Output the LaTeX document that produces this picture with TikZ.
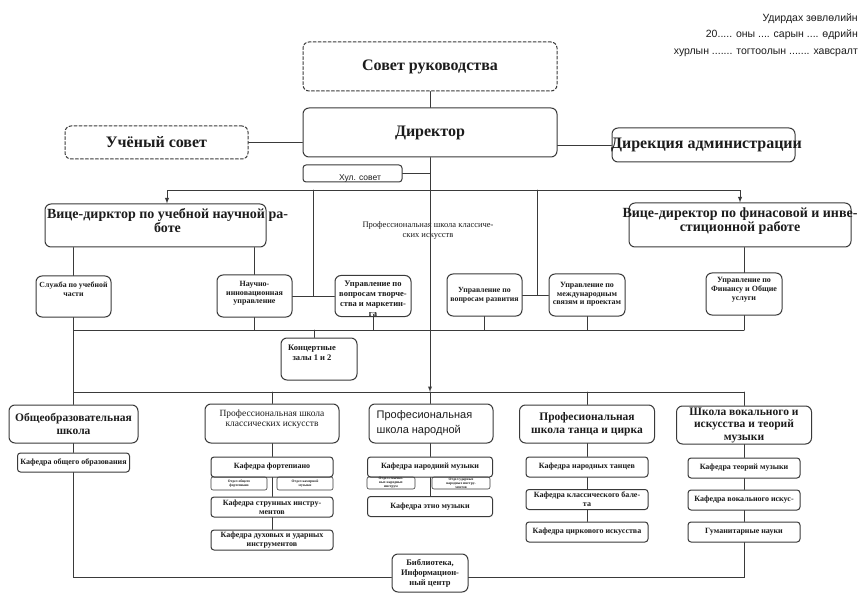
\documentclass[tikz,border=0pt]{standalone}
\usepackage{fontspec}
\setmainfont{Liberation Serif}
\newfontfamily\sansfont{Liberation Sans}
\usepackage{xcolor}
\definecolor{linegray}{HTML}{3a3a3a}
\definecolor{inkgray}{HTML}{1c1c1c}

\begin{document}
\begin{tikzpicture}[x=1pt, y=-1pt, line cap=round, >=latex,
  box/.style={draw=linegray, line width=1pt, rounded corners=6pt, align=center, inner sep=1pt, text=inkgray},
  dbox/.style={box, dash pattern=on 3pt off 2pt},
  kbox/.style={box, rounded corners=3pt, font=\fontsize{8}{9}\selectfont\bfseries},
  obox/.style={box, rounded corners=2pt, line width=0.6pt, inner sep=0pt, font=\fontsize{3.6}{4}\selectfont\bfseries},
  headfont/.style={font=\fontsize{16}{18}\selectfont\bfseries},
  vicefont/.style={font=\fontsize{14}{13}\selectfont\bfseries},
  schoolfont/.style={font=\fontsize{11.5}{12.5}\selectfont\bfseries},
  tbox/.style 2 args={box, label={[anchor=north, align=center, inner sep=0pt, text=inkgray, font=\fontsize{7.8}{9}\selectfont\bfseries, #1]north:#2}},
  conn/.style={draw=linegray, line width=0.9pt}]
  \path[fill=white, use as bounding box] (0,0) rectangle (861,593);

  % Note
  \node[anchor=north east, align=right, inner sep=0pt, text=inkgray, font=\sansfont\fontsize{10.5}{16.5}\selectfont] (note) at (858,13.5)
    {Удирдах зөвлөлийн\\20..... оны .... сарын .... өдрийн\\хурлын ....... тогтоолын ....... хавсралт};

  % Leadership
  \node[dbox, headfont, minimum width=254, minimum height=49] (sovet) at (430,66.5) {Совет руководства};
  \node[box, headfont, minimum width=254, minimum height=49] (director) at (430,132.5) {Директор};
  \node[dbox, headfont, minimum width=183, minimum height=33] (uchsovet) at (156.5,142.5) {Учёный совет};
  \node[box, headfont, minimum width=183, minimum height=34] (direkcia) at (703.5,145)
    {\makebox[0pt]{\hspace{6pt}Дирекция администрации}};
  \node[box, rounded corners=3pt, minimum width=99, minimum height=17,
    path picture={\node[anchor=base west, inner sep=0pt, text=inkgray, font=\sansfont\fontsize{8.5}{9}\selectfont] (hultext)
      at ([xshift=7pt, yshift=1pt]path picture bounding box.south west) {Хул. совет};}] (hul) at (352.5,173.5) {};

  % Vice directors
  \node[box, minimum width=221, minimum height=43,
    label={[anchor=north, align=center, inner sep=0pt, text=inkgray, vicefont, xshift=12pt, yshift=-5pt]north:Вице-дирктор по учебной научной ра-\\боте}] (vice1) at (155.5,225.5) {};
  \node[box, minimum width=222, minimum height=44,
    label={[anchor=north, align=center, inner sep=0pt, text=inkgray, vicefont, yshift=-5pt]north:Вице-директор по финасовой и инве-\\стиционной работе}] (vice2) at (740,225) {};
  \node[text=inkgray, align=center, font=\fontsize{8.5}{10}\selectfont] (klasstxt) at (428,230) {Профессиональная школа классиче-\\ских искусств};

  % Services
  \node[tbox={yshift=-6.5pt}{Служба по учебной\\части}, minimum width=75, minimum height=41] (sluzhba) at (73.5,296.5) {};
  \node[tbox={yshift=-6.4pt, font=\fontsize{8}{8.8}\selectfont\bfseries}{Научно-\\инновационная\\управление}, minimum width=75, minimum height=42] (nauchno) at (254.5,296) {};
  \node[tbox={yshift=-6pt, font=\fontsize{8.5}{10}\selectfont\bfseries}{Управление по\\вопросам творче-\\ства и маркетин-\\га}, minimum width=76, minimum height=41] (tvorch) at (373,296) {};
  \node[box, minimum width=75, minimum height=42, font=\fontsize{7.8}{9}\selectfont\bfseries] (razvit) at (484.5,295) {Управление по\\вопросам развития};
  \node[tbox={yshift=-8.4pt, font=\fontsize{8}{8.8}\selectfont\bfseries}{Управление по\\международным\\связям и проектам}, minimum width=76, minimum height=42] (mezhd) at (587,295) {};
  \node[tbox={yshift=-4.5pt, font=\fontsize{8}{9}\selectfont\bfseries}{Управление по\\Финансу и Общие\\услуги}, minimum width=76, minimum height=42] (finans) at (744,294) {};
  \node[tbox={yshift=-7pt, xshift=-7pt, font=\fontsize{8.5}{10}\selectfont\bfseries}{Концертные\\залы 1 и 2}, minimum width=76, minimum height=42] (koncert) at (319,359) {};

  % Schools
  \node[box, schoolfont, minimum width=129, minimum height=38] (obshobr) at (73.5,424) {Общеобразовательная\\школа};
  \node[box, minimum width=134, minimum height=39,
    label={[anchor=north, align=center, inner sep=0pt, text=inkgray, font=\fontsize{9.5}{10.5}\selectfont, yshift=-6pt]north:Профессиональная школа\\классических искусств}] (klass) at (272,423.5) {};
  \node[box, minimum width=124, minimum height=39,
    label={[anchor=west, align=left, inner sep=0pt, text=inkgray, font=\sansfont\fontsize{11}{15}\selectfont, xshift=8pt]west:Професиональная\\школа народной}] (narod) at (431,423.5) {};
  \node[box, schoolfont, minimum width=135, minimum height=38] (tanec) at (587,424) {Професиональная\\школа танца и цирка};
  \node[box, schoolfont, minimum width=135, minimum height=38] (vokal) at (744,425) {Школа вокального и\\искусства и теорий\\музыки};

  % Departments
  \node[kbox, minimum width=112, minimum height=19] (kobsh) at (73.5,462.5) {Кафедра общего образования};
  \node[kbox, minimum width=122, minimum height=20] (kfort) at (272,467) {Кафедра фортепиано};
  \node[obox, minimum width=56, minimum height=13] (otd1) at (239,483.5) {Отдел общего\\фортепиано};
  \node[obox, minimum width=56, minimum height=13] (otd2) at (305,483.5) {Отдел камерной\\музыки};
  \node[kbox, minimum width=122, minimum height=20] (kstrun) at (272,507) {Кафедра струнных инстру-\\ментов};
  \node[kbox, minimum width=122, minimum height=20] (kduh) at (272,540) {Кафедра духовых и ударных\\инструментов};
  \node[kbox, minimum width=125, minimum height=20] (knarod) at (430,467) {Кафедра народний музыки};
  \node[obox, minimum width=48, minimum height=12] (otd3) at (391,483) {Отдел смычко-\\вых народных\\инструм};
  \node[obox, minimum width=58, minimum height=12] (otd4) at (461,483) {Отдел ударных\\народных инстру-\\ментов};
  \node[kbox, minimum width=125, minimum height=20] (ketno) at (430,506.5) {Кафедра этно музыки};
  \node[kbox, minimum width=122, minimum height=20] (ktanc) at (587,467) {Кафедра народных танцев};
  \node[kbox, minimum width=122, minimum height=20] (kbalet) at (587,499.5) {Кафедра классического бале-\\та};
  \node[kbox, minimum width=122, minimum height=20] (kcirk) at (587,532) {Кафедра циркового искусства};
  \node[kbox, minimum width=112, minimum height=20] (kteor) at (744,468) {Кафедра теорий музыки};
  \node[kbox, minimum width=112, minimum height=20] (kvok) at (744,500) {Кафедра вокального искус-};
  \node[kbox, minimum width=112, minimum height=20] (kgum) at (744,532) {Гуманитарные науки};
  \node[box, minimum width=76, minimum height=38, font=\fontsize{8.5}{10}\selectfont\bfseries] (bibl) at (430,573) {Библиотека,\\Информацион-\\ный центр};

  % Buses
  \coordinate (busA) at (430,190);
  \coordinate (busB) at (430,330);
  \coordinate (busC) at (430,392);
  \coordinate (jLeft) at (313,190);
  \coordinate (jRight) at (537,190);

  % Connections
  \draw[conn] (sovet) -- (director);
  \draw[conn] (uchsovet.east) -- (uchsovet.east -| director.west);
  \draw[conn] (direkcia.west) -- (direkcia.west -| director.east);
  \draw[conn] (hul.east) -- (hul.east -| director.south);
  \draw[conn,->] (director.south) -- (busC);
  \draw[conn] (busC) -- (busC |- narod.north);
  \draw[conn,->] (busA) -| ([xshift=11.5pt]vice1.north);
  \draw[conn,->] (busA) -| (vice2.north);
  \draw[conn] (jLeft) -- (jLeft |- nauchno.east);
  \draw[conn] (jRight) -- (jRight |- razvit.east);
  \draw[conn] (nauchno.east) -- (tvorch.west);
  \draw[conn] (razvit.east) -- (mezhd.west);
  \draw[conn] (vice1.south -| sluzhba.north) -- (sluzhba.north);
  \draw[conn] (vice1.south -| nauchno.north) -- (nauchno.north);
  \draw[conn] (vice2.south -| finans.north) -- (finans.north);

  \draw[conn] (busB -| sluzhba.south) -- (busB -| finans.south);
  \draw[conn] (sluzhba.south) -- (obshobr.north);
  \draw[conn] (nauchno.south) -- (nauchno.south |- busB);
  \draw[conn] (tvorch.south) -- (tvorch.south |- busB);
  \draw[conn] (razvit.south) -- (razvit.south |- busB);
  \draw[conn] (mezhd.south) -- (mezhd.south |- busB);
  \draw[conn] (finans.south) -- (finans.south |- busB);
  \draw[conn] ([xshift=-5pt]koncert.north) -- ([xshift=-5pt]koncert.north |- busB);

  \draw[conn] (busC -| obshobr.north) -- (busC -| vokal.north);
  \draw[conn] (busC -| klass.north) -- (klass.north);
  \draw[conn] (busC -| tanec.north) -- (tanec.north);
  \draw[conn] (busC -| vokal.north) -- (vokal.north);

  \draw[conn] (obshobr.south) -- (kobsh.north);
  \draw[conn] (klass.south) -- (kfort.north);
  \draw[conn] (kfort.south) -- (kstrun.north);
  \draw[conn] (kstrun.south) -- (kduh.north);
  \draw[conn] (narod.south -| knarod.north) -- (knarod.north);
  \draw[conn] (knarod.south) -- (ketno.north);
  \draw[conn] (tanec.south) -- (ktanc.north);
  \draw[conn] (ktanc.south) -- (kbalet.north);
  \draw[conn] (kbalet.south) -- (kcirk.north);
  \draw[conn] (vokal.south) -- (kteor.north);
  \draw[conn] (kteor.south) -- (kvok.north);
  \draw[conn] (kvok.south) -- (kgum.north);
  \draw[conn] (kobsh.south) |- ([yshift=-4pt]bibl.west);
  \draw[conn] (kgum.south) |- ([yshift=-4pt]bibl.east);
\end{tikzpicture}
\end{document}
